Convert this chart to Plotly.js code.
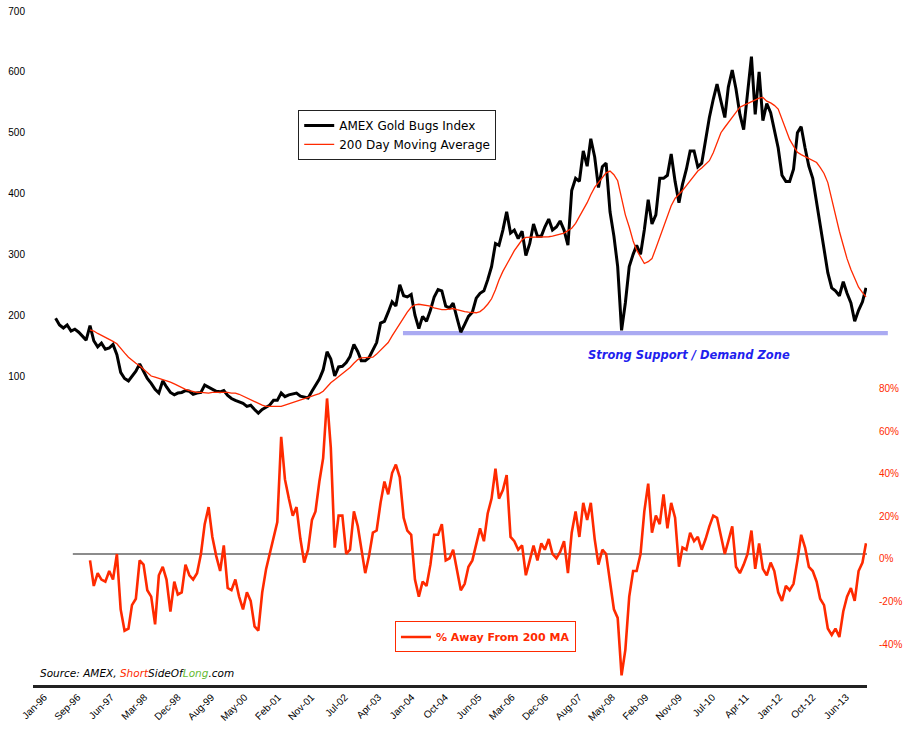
<!DOCTYPE html>
<html>
<head>
<meta charset="utf-8">
<script src="https://cdn.plot.ly/plotly-3.0.1.min.js"></script>
<style>
  html, body { margin: 0; padding: 0; background: #fff; }
  #chart { width: 904px; height: 729px; }
</style>
</head>
<body>
<div id="chart"></div>
<script>
// monthly readings, first month of the index is Jul-96
var firstMonth = [1996, 7];

// AMEX Gold Bugs Index (HUI), monthly
var gbi = [
  195, 184, 179, 184, 174, 177,
  172, 165, 159, 183, 158, 148, 154, 144, 146, 152, 135, 106,
  96, 92, 99, 108, 120, 108, 96, 88, 78, 72, 92, 82,
  73, 69, 72, 73, 76, 75, 70, 72, 73, 85, 82, 78,
  75, 74, 76, 68, 63, 60, 58, 55, 50, 52, 45, 39,
  45, 48, 52, 60, 60, 72, 66, 69, 70, 72, 67, 65,
  64, 75, 85, 95, 110, 140, 128, 100, 115, 116, 122, 132,
  152, 140, 125, 125, 130, 142, 155, 187, 190, 205, 222, 215,
  250, 232, 230, 234, 200, 178, 198, 190, 208, 230, 242, 240,
  215, 212, 220, 195, 172, 185, 198, 205, 228, 236, 240, 258,
  280, 318, 315, 340, 370, 335, 340, 326, 338, 298, 318, 350,
  330, 330, 345, 358, 340, 345, 355, 340, 315, 405, 425, 420,
  470, 445, 490, 460, 410, 444, 450, 370, 330, 280, 175, 220,
  280, 300, 315, 300, 340, 390, 350, 365, 425, 425, 430, 465,
  420, 385, 415, 440, 470, 470, 444, 450, 488, 525, 555, 580,
  552, 525, 575, 603, 572, 530, 505, 570, 625, 530, 600, 520,
  548, 533, 505, 475, 430, 420, 420, 440, 500, 510, 475, 445,
  425, 385, 350, 305, 270, 245, 240, 232, 255, 236, 220, 190,
  208, 222, 245
];

// 200 day moving average, starts Apr-97
var ma200 = [
  176, 174, 170, 167, 163, 160, 157, 153, 145,
  138, 131, 126, 121, 117, 111, 105, 100, 98, 96, 95, 93,
  90, 87, 84, 81, 78, 76, 74, 73, 73, 72, 72, 73,
  73, 74, 73, 73, 72, 72, 70, 67, 64, 61, 58, 54,
  52, 50, 50, 49, 49, 50, 52, 54, 57, 59, 61, 63,
  65, 67, 69, 71, 75, 82, 89, 94, 99, 103, 108, 114,
  121, 127, 130, 130, 130, 131, 136, 142, 148, 155, 166, 176,
  186, 196, 205, 213, 217, 218, 217, 217, 215, 212, 210, 209,
  209, 210, 211, 209, 207, 206, 205, 204, 204, 206, 211, 218,
  227, 242, 258, 272, 284, 296, 306, 315, 324, 328, 328, 329,
  329, 329, 329, 329, 330, 332, 334, 335, 339, 343, 351, 362,
  373, 385, 398, 410, 418, 426, 434, 437, 431, 421, 395, 365,
  345, 322, 307, 295, 285, 288, 293, 310, 328, 346, 363, 380,
  392, 398, 405, 413, 421, 429, 437, 442, 448, 454, 467, 484,
  500, 509, 517, 525, 533, 542, 545, 548, 551, 554, 557, 558,
  552, 549, 545, 539, 522, 506, 489, 478, 468, 464, 461, 457,
  455, 451, 443, 433, 418, 390, 362, 338, 315, 293, 275, 260,
  246, 237, 230
];

// % away from the 200 day MA, starts Apr-97
var pctAway = [
  -3, -15, -9, -12, -13, -8, -12, 0, -26,
  -36, -35, -24, -21, -3, -5, -17, -20, -33, -10, -6, -12,
  -27, -13, -19, -18, -5, -10, -12, -9, 0, 14, 22, 8,
  -1, -8, 4, -16, -17, -12, -20, -26, -18, -22, -34, -36,
  -18, -7, 0, 9, 15, 55, 35, 26, 18, 22, 7, -4,
  2, 16, 20, 34, 45, 73, 50, 3, 18, 18, 0, 2,
  20, 13, 2, -9, -1, 10, 11, 24, 34, 28, 38, 42,
  36, 17, 11, 9, -12, -20, -13, -15, -5, 9, 9, 14,
  -3, -2, 2, -7, -17, -14, -6, -3, 4, 12, 6, 19,
  26, 40, 26, 30, 37, 8, 6, 2, 4, -10, -3, 4,
  -3, 5, 2, 7, 0, -2, 1, 6, -9, 10, 20, 8,
  24, 16, 24, 7, -5, 2, 0, -12, -26, -30, -57, -45,
  -20, -8, -8, 0, 20, 33, 10, 18, 14, 28, 12, 24,
  17, -6, 3, 2, 10, 6, 8, 2, 7, 13, 18, 17,
  8, 0, 6, 13, -6, -9, -5, 0, 11, -7, 5, -7,
  -10, -4, -8, -18, -22, -15, -17, -14, -3, 9, 3, -6,
  -8, -13, -21, -24, -35, -38, -35, -39, -27, -20, -16, -22,
  -8, -4, 5
];

var leftTicks = [100, 200, 300, 400, 500, 600, 700];
var rightTicks = [-40, -20, 0, 20, 40, 60, 80];
var rightTickText = ['-40%', '-20%', '0%', '20%', '40%', '60%', '80%'];

// month labels for the x axis
var months = [];
for (var i = 0; i < gbi.length; i++) {
  var m = firstMonth[1] - 1 + i;
  var y = firstMonth[0] + Math.floor(m / 12);
  var mm = (m % 12) + 1;
  months.push(y + '-' + (mm < 10 ? '0' + mm : mm) + '-01');
}
var maMonths = months.slice(gbi.length - ma200.length);

var tickFont = {family: 'Liberation Sans, Arial, sans-serif', size: 10, color: '#000'};
var red = '#ff2a00';

var data = [
  {
    x: months, y: gbi, type: 'scatter', mode: 'lines',
    name: 'AMEX Gold Bugs Index',
    line: {color: '#000', width: 3},
    legend: 'legend'
  },
  {
    x: maMonths, y: ma200, type: 'scatter', mode: 'lines',
    name: '200 Day Moving Average',
    line: {color: red, width: 1.3},
    legend: 'legend'
  },
  {
    x: maMonths, y: pctAway, type: 'scatter', mode: 'lines',
    name: '% Away From 200 MA',
    line: {color: red, width: 2.6},
    yaxis: 'y2',
    legend: 'legend2'
  }
];

var layout = {
  width: 904, height: 729,
  margin: {l: 33, r: 37, t: 5, b: 44},
  paper_bgcolor: '#fff', plot_bgcolor: '#fff',
  font: {family: 'DejaVu Sans, sans-serif', size: 12, color: '#000'},
  xaxis: {
    type: 'date',
    range: ['1996-01-03', '2014-03-09'],
    tick0: '1996-01-05',
    dtick: 266 * 86400000,
    tickformat: '%b-%y',
    tickangle: -45,
    ticks: '',
    ticklabelshift: 11,
    tickfont: tickFont,
    showgrid: false, zeroline: false,
    showline: true, linecolor: '#222', linewidth: 2.5
  },
  yaxis: {
    range: [-408, 710],
    tickvals: leftTicks,
    tickfont: tickFont,
    ticks: '',
    ticklabelstandoff: 7,
    showgrid: false, zeroline: false, showline: false
  },
  yaxis2: {
    overlaying: 'y', side: 'right',
    range: [-61.5, 257.7],
    tickvals: rightTicks,
    ticktext: rightTickText,
    tickfont: {family: 'Liberation Sans, Arial, sans-serif', size: 10, color: red},
    ticks: '',
    ticklabelstandoff: 11,
    ticklabelshift: 5,
    showgrid: false, zeroline: false, showline: false
  },
  legend: {
    x: 0.318, y: 0.809, xanchor: 'left', yanchor: 'middle',
    bgcolor: '#fff', bordercolor: '#222', borderwidth: 1,
    font: {family: 'DejaVu Sans, sans-serif', size: 12, color: '#000'},
    itemwidth: 30, tracegroupgap: 0
  },
  legend2: {
    x: 0.434, y: 0.0706, xanchor: 'left', yanchor: 'middle',
    bgcolor: '#fff', bordercolor: red, borderwidth: 1,
    font: {family: 'DejaVu Sans, sans-serif', size: 11, color: red, weight: 'bold'},
    itemwidth: 30
  },
  shapes: [
    {
      // support / demand zone band
      type: 'rect', xref: 'paper', yref: 'y',
      x0: 0.4436, x1: 1.025, y0: 167, y1: 174,
      fillcolor: '#aaaaf2', line: {width: 0}, layer: 'below'
    },
    {
      // zero line for the % series
      type: 'line', xref: 'x', yref: 'y2',
      x0: '1996-11-15', x1: '2014-03-09', y0: 0, y1: 0,
      line: {color: '#666', width: 1.3}, layer: 'below'
    }
  ],
  annotations: [
    {
      xref: 'paper', yref: 'paper', x: 0.787, y: 0.485,
      xanchor: 'center', yanchor: 'middle',
      text: '<b><i>Strong Support / Demand Zone</i></b>',
      showarrow: false,
      font: {family: 'DejaVu Sans, sans-serif', size: 11.5, color: '#1f1fee'}
    },
    {
      xref: 'paper', yref: 'paper', x: 0.006, y: 0.0176,
      xanchor: 'left', yanchor: 'middle',
      text: '<i>Source: AMEX, <span style="color:#ff2a00">Short</span>SideOf<span style="color:#66bb33">Long</span>.com</i>',
      showarrow: false,
      font: {family: 'DejaVu Sans, sans-serif', size: 10.5, color: '#000'}
    }
  ]
};

Plotly.newPlot('chart', data, layout, {displayModeBar: false, staticPlot: true});
</script>
</body>
</html>
